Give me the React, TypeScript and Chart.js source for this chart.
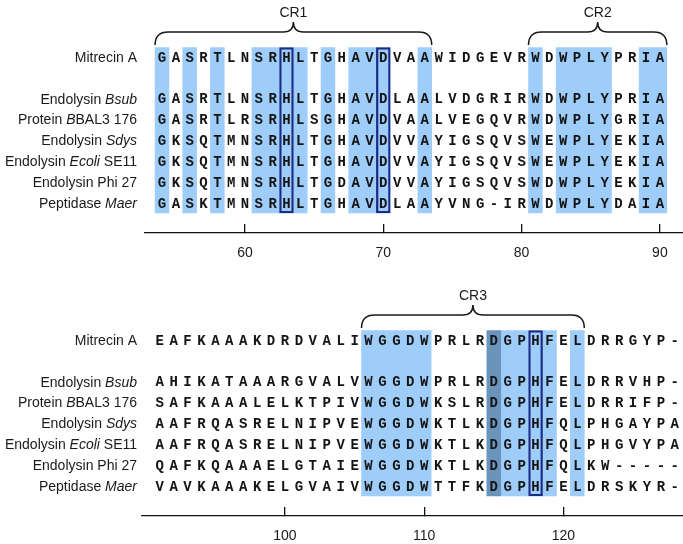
import React, { useEffect, useRef } from 'react';
import { Chart, registerables } from 'chart.js';

Chart.register(...registerables);

// ---------- data ----------
const ROW_POS = [0, 2, 3, 4, 5, 6, 7];

const NAMES: [string, boolean][][] = [
  [['Mitrecin A', false]],
  [['Endolysin ', false], ['Bsub', true]],
  [['Protein ', false], ['B', true], ['BAL3 176', false]],
  [['Endolysin ', false], ['Sdys', true]],
  [['Endolysin ', false], ['Ecoli', true], [' SE11', false]],
  [['Endolysin Phi 27', false]],
  [['Peptidase ', false], ['Maer', true]],
];

const TOP_START = 54;
const TOP_SEQS = [
  'GASRTLNSRHLTGHAVDVAAWIDGEVRWDWPLYPRIA',
  'GASRTLNSRHLTGHAVDLAALVDGRIRWDWPLYPRIA',
  'GASRTLRSRHLSGHAVDVAALVEGQVRWDWPLYGRIA',
  'GKSQTMNSRHLTGHAVDVVAYIGSQVSWEWPLYEKIA',
  'GKSQTMNSRHLTGHAVDVVAYIGSQVSWEWPLYEKIA',
  'GKSQTMNSRHLTGDAVDVVAYIGSQVSWDWPLYEKIA',
  'GASKTMNSRHLTGHAVDLAAYVNG-IRWDWPLYDAIA',
];
const TOP_LIGHT = [54, 56, 58, 61, 62, 63, 64, 66, 68, 69, 70, 73, 81, 83, 84, 85, 86, 89, 90];
const TOP_DARK: number[] = [];
const TOP_BOX = [63, 70];
const TOP_TICKS = [60, 70, 80, 90];
const TOP_REGIONS = [
  { label: 'CR1', from: 54, to: 73 },
  { label: 'CR2', from: 81, to: 90 },
];

const BOT_START = 91;
const BOT_SEQS = [
  'EAFKAAAKDRDVALIWGGDWPRLRDGPHFELDRRGYP-',
  'AHIKATAAARGVALVWGGDWPRLRDGPHFELDRRVHP-',
  'SAFKAAALELKTPIVWGGDWKSLRDGPHFELDRRIFP-',
  'AAFRQASRELNIPVEWGGDWKTLKDGPHFQLPHGAYPA',
  'AAFRQASRELNIPVEWGGDWKTLKDGPHFQLPHGVYPA',
  'QAFKQAAAELGTAIEWGGDWKTLKDGPHFQLKW-----',
  'VAVKAAAKELGVAIVWGGDWTTFKDGPHFELDRSKYR-',
];
const BOT_LIGHT = [106, 107, 108, 109, 110, 116, 117, 118, 119, 121];
const BOT_DARK = [115];
const BOT_BOX = [118];
const BOT_TICKS = [100, 110, 120];
const BOT_REGIONS = [{ label: 'CR3', from: 106, to: 121 }];

// ---------- style ----------
const LIGHT = '#9fcdf9';
const DARK = '#6b94bd';
const BOX = '#1b2a86';
const SEQ_FONT = 'bold 14px "Liberation Mono", "Courier New", monospace';
const SANS = '"Liberation Sans", Arial, Helvetica, sans-serif';
const Y_MIN = -2.733;
const Y_MAX = 8.437;
const COL_TOP = -0.45;
const COL_BOT = 7.48;

type Panel = {
  start: number;
  seqs: string[];
  light: number[];
  dark: number[];
  box: number[];
  ticks: number[];
  regions: { label: string; from: number; to: number }[];
  xMin: number;
  xMax: number;
  left: number;
  height: number;
  axisH: number;
};

const TOP_PANEL: Panel = {
  start: TOP_START, seqs: TOP_SEQS, light: TOP_LIGHT, dark: TOP_DARK, box: TOP_BOX,
  ticks: TOP_TICKS, regions: TOP_REGIONS, xMin: 52.77, xMax: 91.67, left: 145, height: 283, axisH: 50,
};
const BOT_PANEL: Panel = {
  start: BOT_START, seqs: BOT_SEQS, light: BOT_LIGHT, dark: BOT_DARK, box: BOT_BOX,
  ticks: BOT_TICKS, regions: BOT_REGIONS, xMin: 89.73, xMax: 128.59, left: 142, height: 261, axisH: 28,
};

function drawBrace(ctx: CanvasRenderingContext2D, x0: number, x1: number, yEnd: number, yLine: number, yPeak: number) {
  const xm = (x0 + x1) / 2;
  const r = Math.min(14, yEnd - yLine);
  const r2 = 10;
  ctx.beginPath();
  ctx.moveTo(x0, yEnd);
  ctx.quadraticCurveTo(x0, yLine, x0 + r, yLine);
  ctx.lineTo(xm - r2, yLine);
  ctx.quadraticCurveTo(xm, yLine, xm, yPeak);
  ctx.quadraticCurveTo(xm, yLine, xm + r2, yLine);
  ctx.lineTo(x1 - r, yLine);
  ctx.quadraticCurveTo(x1, yLine, x1, yEnd);
  ctx.stroke();
}

function makePlugin(p: Panel) {
  return {
    id: 'alignText',
    afterDatasetsDraw(chart: any) {
      const { ctx } = chart;
      const x = chart.scales.x;
      const y = chart.scales.y;
      ctx.save();
      // residues
      ctx.font = SEQ_FONT;
      ctx.textAlign = 'center';
      ctx.textBaseline = 'middle';
      ctx.fillStyle = '#141414';
      p.seqs.forEach((s, i) => {
        const py = y.getPixelForValue(ROW_POS[i]);
        for (let k = 0; k < s.length; k++) {
          ctx.fillText(s[k], x.getPixelForValue(p.start + k), py + 1);
        }
      });
      // names
      ctx.textAlign = 'left';
      ctx.fillStyle = '#1a1a1a';
      NAMES.forEach((segs, i) => {
        const py = y.getPixelForValue(ROW_POS[i]);
        let total = 0;
        const widths = segs.map(([t, it]) => {
          ctx.font = (it ? 'italic ' : '') + '14px ' + SANS;
          const w = ctx.measureText(t).width;
          total += w;
          return w;
        });
        let cx = 137 - total;
        segs.forEach(([t, it], j) => {
          ctx.font = (it ? 'italic ' : '') + '14px ' + SANS;
          ctx.fillText(t, cx, py + 1);
          cx += widths[j];
        });
      });
      // braces and region labels
      ctx.strokeStyle = '#1a1a1a';
      ctx.lineWidth = 1.5;
      ctx.textAlign = 'center';
      ctx.font = '14px ' + SANS;
      p.regions.forEach((r) => {
        const x0 = x.getPixelForValue(r.from - 0.5);
        const x1 = x.getPixelForValue(r.to + 0.5);
        drawBrace(ctx, x0, x1, y.getPixelForValue(-0.575), y.getPixelForValue(-1.2), y.getPixelForValue(-1.68));
        ctx.fillText(r.label, (x0 + x1) / 2, y.getPixelForValue(-2.12));
      });
      ctx.restore();
    },
  };
}

function cols(list: number[]) {
  return list.map((v) => ({ x: v, y: [COL_TOP, COL_BOT] }));
}

function AlignPanel({ p }: { p: Panel }) {
  const ref = useRef<HTMLCanvasElement | null>(null);
  useEffect(() => {
    if (!ref.current) return;
    const common = { grouped: false, barPercentage: 1, categoryPercentage: 1, borderWidth: 0 };
    const chart = new Chart(ref.current, {
      type: 'bar',
      data: {
        datasets: [
          { ...common, data: cols(p.light), backgroundColor: LIGHT, order: 3 } as any,
          { ...common, data: cols(p.dark), backgroundColor: DARK, order: 2 } as any,
          {
            ...common, data: cols(p.box), backgroundColor: 'rgba(0,0,0,0)', borderColor: BOX,
            borderWidth: 1.6, borderSkipped: false, order: 1,
          } as any,
        ],
      },
      options: {
        animation: false,
        responsive: false,
        maintainAspectRatio: false,
        devicePixelRatio: 1,
        layout: { padding: { left: p.left, right: 0, top: 0, bottom: 0 } },
        plugins: { legend: { display: false }, tooltip: { enabled: false } },
        scales: {
          x: {
            type: 'linear',
            min: p.xMin,
            max: p.xMax,
            offset: false,
            afterBuildTicks: (s: any) => { s.ticks = p.ticks.map((v) => ({ value: v })); },
            afterFit: (s: any) => { s.height = p.axisH; s.paddingLeft = 0; s.paddingRight = 0; },
            grid: { display: true, drawOnChartArea: false, drawTicks: true, tickLength: -9, color: '#111', lineWidth: 1.3, offset: false },
            border: { display: true, color: '#111', width: 1.3 },
            ticks: { padding: 20.5, color: '#1a1a1a', font: { family: SANS, size: 14 }, maxRotation: 0, autoSkip: false },
          },
          y: { type: 'linear', display: false, reverse: true, min: Y_MIN, max: Y_MAX },
        },
      } as any,
      plugins: [makePlugin(p)],
    });
    return () => chart.destroy();
  }, [p]);
  return <canvas ref={ref} width={683} height={p.height} style={{ display: 'block', width: 683, height: p.height }} />;
}

export default function App() {
  return (
    <div style={{ position: 'fixed', left: 0, top: 0, width: 683, height: 544, background: '#fff', overflow: 'hidden' }}>
      <AlignPanel p={TOP_PANEL} />
      <AlignPanel p={BOT_PANEL} />
    </div>
  );
}
